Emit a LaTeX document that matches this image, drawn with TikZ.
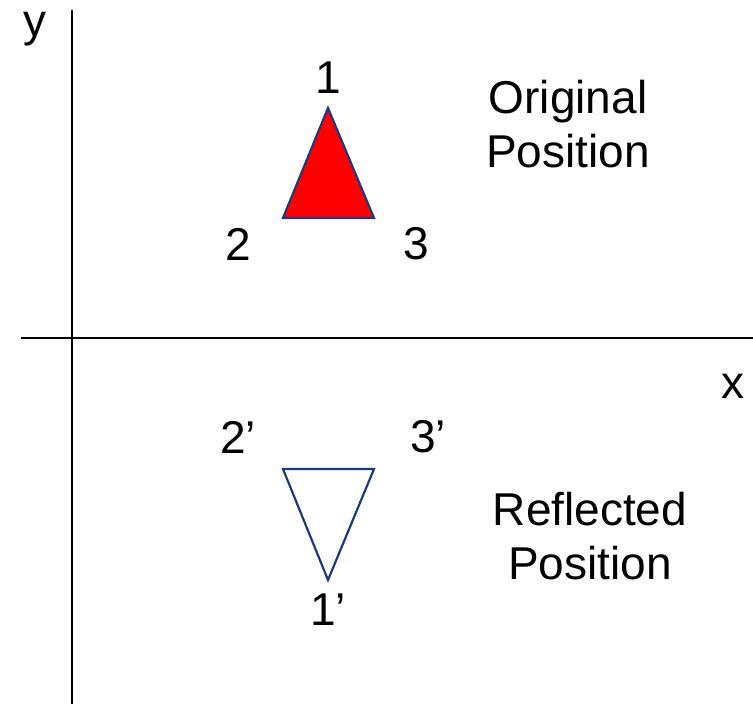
\documentclass[tikz,border=0pt]{standalone}
\usepackage{fontspec}
\setmainfont{Liberation Sans}
\definecolor{edge}{HTML}{1F3A7A}
\begin{document}
\begin{tikzpicture}[x=1pt,y=-1pt,
  lbl/.style={font=\fontsize{46}{54}\selectfont, inner sep=0pt, anchor=center},
  axis/.style={draw=black, line width=1.5pt},
  tri/.style={draw=edge, line width=2.2pt, line join=miter}]
\useasboundingbox (0,0) rectangle (753,704);
\coordinate (ytop) at (72,10);
\coordinate (ybot) at (72,704);
\coordinate (xl) at (21,338);
\coordinate (xr) at (753,338);
\draw[axis] (ytop) -- (ybot);
\draw[axis] (xl) -- (xr);
\coordinate (a1) at (328,108);
\coordinate (a2) at (283,218);
\coordinate (a3) at (374,218);
\filldraw[tri, fill=red] (a1) -- (a2) -- (a3) -- cycle;
\coordinate (b1) at (328,580);
\coordinate (b2) at (283,469);
\coordinate (b3) at (374,469);
\draw[tri, fill=white] (b1) -- (b2) -- (b3) -- cycle;
\node[lbl] (ly) at (35,29) {y};
\node[lbl] (lx) at (733,386) {x};
\node[lbl] (l1) at (328,78) {1};
\node[lbl] (l2) at (238,244) {2};
\node[lbl] (l3) at (416,244) {3};
\node[lbl] (l1p) at (328,610) {1’};
\node[lbl] (l2p) at (238,437) {2’};
\node[lbl] (l3p) at (428,437) {3’};
\node[lbl, align=center] (orig) at (568,124) {Original\\Position};
\node[lbl, align=center] (refl) at (590,536) {Reflected\\Position};
\end{tikzpicture}
\end{document}
